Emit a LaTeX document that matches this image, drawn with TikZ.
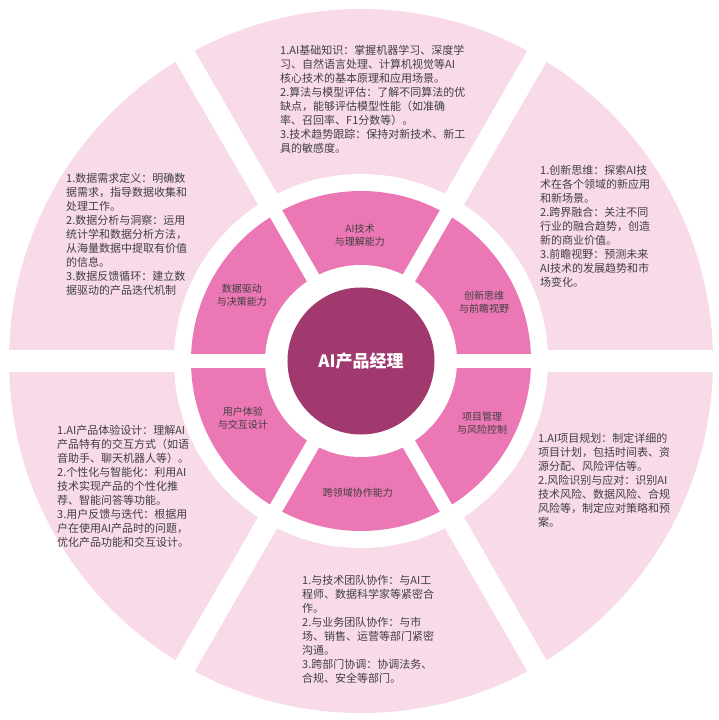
\documentclass[tikz,border=0pt]{standalone}
\usepackage{fontspec}
\setmainfont{Noto Sans CJK SC}
\definecolor{outerpink}{HTML}{F8DAE9}
\definecolor{innerpink}{HTML}{EB77B4}
\definecolor{corepurple}{HTML}{A1396E}
\definecolor{textgray}{HTML}{404040}
\tikzset{
  outertext/.style={anchor=north west, align=left, inner sep=0pt, text=textgray,
    font=\fontsize{11}{14}\selectfont},
  ringlabel/.style={align=center, inner sep=0pt, text=textgray,
    font=\fontsize{10}{13}\selectfont},
}
\begin{document}
\begin{tikzpicture}[x=1pt,y=1pt]
\useasboundingbox (-361,-359) rectangle (357,361);
% rings
\fill[outerpink] (0,0) circle (352);
\fill[white] (0,0) circle (187);
\fill[innerpink] (0,0) circle (170);
\fill[white] (0,0) circle (96);
% gaps between the segments
\foreach \a in {0,60,...,300}{
  \draw[white, line width=22pt] (\a:175) -- (\a:360);
  \draw[white, line width=14pt] (\a:90) -- (\a:178);
}
\fill[corepurple] (0,0) circle (73.5);
\node[text=white, font=\bfseries\fontsize{17}{20}\selectfont] (core) at (0,0) {AI产品经理};
% inner ring
\node[ringlabel] (tech) at (-1,126) {AI技术\\与理解能力};
\node[ringlabel] (innov) at (123,59) {创新思维\\与前瞻视野};
\node[ringlabel] (proj) at (121,-62) {项目管理\\与风险控制};
\node[ringlabel] (collab) at (-3,-132) {跨领域协作能力};
\node[ringlabel] (ux) at (-118,-57) {用户体验\\与交互设计};
\node[ringlabel] (data) at (-119,66) {数据驱动\\与决策能力};
% outer ring
\node[outertext] (techtxt) at (-81,316) {1.AI基础知识：掌握机器学习、深度学\\
习、自然语言处理、计算机视觉等AI\\
核心技术的基本原理和应用场景。\\
2.算法与模型评估：了解不同算法的优\\
缺点，能够评估模型性能（如准确\\
率、召回率、F1分数等）。\\
3.技术趋势跟踪：保持对新技术、新工\\
具的敏感度。};
\node[outertext] (innovtxt) at (179,196) {1.创新思维：探索AI技\\
术在各个领域的新应用\\
和新场景。\\
2.跨界融合：关注不同\\
行业的融合趋势，创造\\
新的商业价值。\\
3.前瞻视野：预测未来\\
AI技术的发展趋势和市\\
场变化。};
\node[outertext] (projtxt) at (177,-72) {1.AI项目规划：制定详细的\\
项目计划，包括时间表、资\\
源分配、风险评估等。\\
2.风险识别与应对：识别AI\\
技术风险、数据风险、合规\\
风险等，制定应对策略和预\\
案。};
\node[outertext] (collabtxt) at (-59,-214) {1.与技术团队协作：与AI工\\
程师、数据科学家等紧密合\\
作。\\
2.与业务团队协作：与市\\
场、销售、运营等部门紧密\\
沟通。\\
3.跨部门协调：协调法务、\\
合规、安全等部门。};
\node[outertext] (uxtxt) at (-304,-64) {1.AI产品体验设计：理解AI\\
产品特有的交互方式（如语\\
音助手、聊天机器人等）。\\
2.个性化与智能化：利用AI\\
技术实现产品的个性化推\\
荐、智能问答等功能。\\
3.用户反馈与迭代：根据用\\
户在使用AI产品时的问题，\\
优化产品功能和交互设计。};
\node[outertext] (datatxt) at (-295,188) {1.数据需求定义：明确数\\
据需求，指导数据收集和\\
处理工作。\\
2.数据分析与洞察：运用\\
统计学和数据分析方法，\\
从海量数据中提取有价值\\
的信息。\\
3.数据反馈循环：建立数\\
据驱动的产品迭代机制};
\end{tikzpicture}
\end{document}
